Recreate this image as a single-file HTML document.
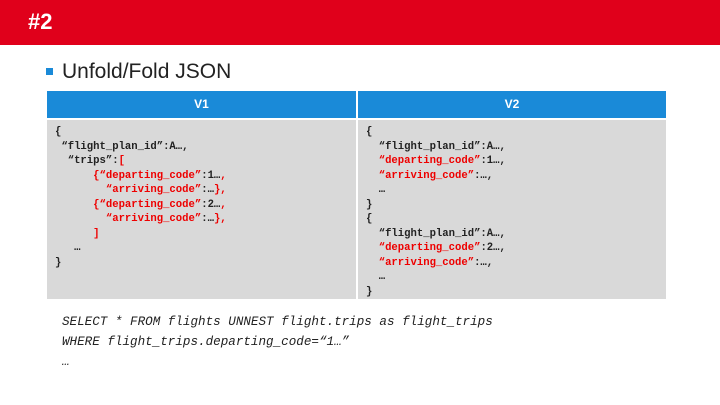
<!DOCTYPE html>
<html><head><style>
body{margin:0;width:720px;height:405px;background:#fff;position:relative;overflow:hidden;font-family:"Liberation Sans",sans-serif}
.top{position:absolute;left:0;top:0;width:720px;height:45px;background:#e0001b}
.top span{position:absolute;left:28px;top:9px;color:#fff;font-weight:bold;font-size:22px}
.bul{position:absolute;left:46px;top:68px;width:7px;height:7px;background:#1a8ad8}
.title{position:absolute;left:62px;top:60px;font-size:21px;color:#222}
.hd{position:absolute;top:91px;height:27px;background:#1a8ad8;color:#fff;font-weight:bold;font-size:12px;text-align:center;line-height:27px}
.bd{position:absolute;top:120px;height:179px;background:#d9d9d9}
pre{margin:0;position:absolute;font-family:"Liberation Mono",monospace;font-weight:bold;font-size:10.6px;line-height:14.5px;color:#222}
.r{color:#e00}
.sql{position:absolute;left:62px;top:312px;font-family:"Liberation Mono",monospace;font-style:italic;font-size:12.6px;line-height:20px;color:#222;white-space:pre}
</style></head><body>
<div class="top"><span>#2</span></div>
<div class="bul"></div>
<div class="title">Unfold/Fold JSON</div>
<div class="hd" style="left:47px;width:309px">V1</div>
<div class="hd" style="left:358px;width:308px">V2</div>
<div class="bd" style="left:47px;width:309px"></div>
<div class="bd" style="left:358px;width:308px"></div>
<pre style="left:55px;top:125px">{
 “flight_plan_id”:A…,
  “trips”:<span class="r">[</span>
<span class="r">      {“departing_code”</span>:1…<span class="r">,</span>
<span class="r">        “arriving_code”</span>:…<span class="r">},</span>
<span class="r">      {“departing_code”</span>:2…<span class="r">,</span>
<span class="r">        “arriving_code”</span>:…<span class="r">},</span>
<span class="r">      ]</span>
   …
}</pre>
<pre style="left:366px;top:125px">{
  “flight_plan_id”:A…,
  <span class="r">“departing_code”</span>:1…,
  <span class="r">“arriving_code”</span>:…,
  …
}
{
  “flight_plan_id”:A…,
  <span class="r">“departing_code”</span>:2…,
  <span class="r">“arriving_code”</span>:…,
  …
}</pre>
<div class="sql">SELECT * FROM flights UNNEST flight.trips as flight_trips
WHERE flight_trips.departing_code=“1…”
…</div>
</body></html>
